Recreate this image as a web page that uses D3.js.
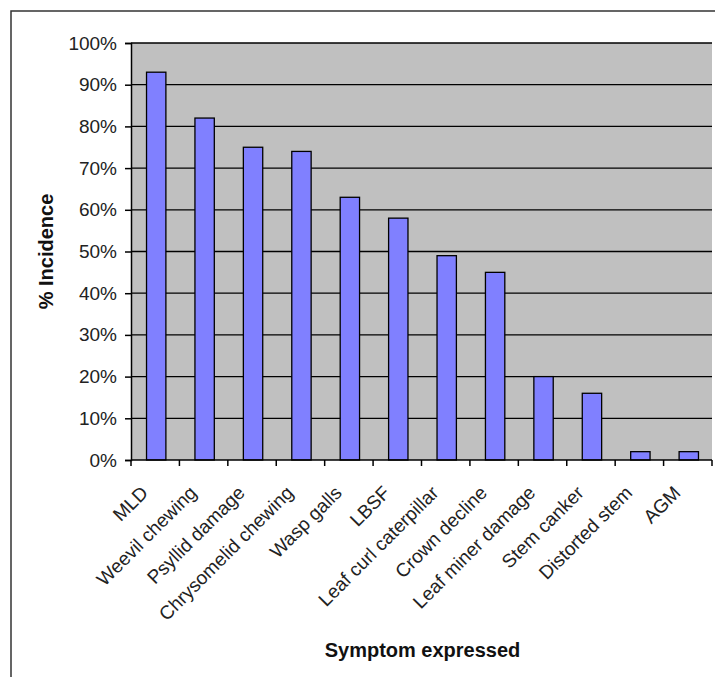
<!DOCTYPE html>
<html>
<head>
<meta charset="utf-8">
<script src="https://cdn.jsdelivr.net/npm/d3@7"></script>
<style>
  body { margin: 0; background: #fff; }
  text { font-family: "Liberation Sans", Arial, sans-serif; }
</style>
</head>
<body>
<div id="container"></div>
<script>
// data
const symptoms = ["MLD", "Weevil chewing", "Psyllid damage", "Chrysomelid chewing", "Wasp galls", "LBSF",
  "Leaf curl caterpillar", "Crown decline", "Leaf miner damage", "Stem canker", "Distorted stem", "AGM"];
const incidence = [93, 82, 75, 74, 63, 58, 49, 45, 20, 16, 2, 2];
const yTicks = [0, 10, 20, 30, 40, 50, 60, 70, 80, 90, 100];

const W = 715, H = 677;
const margin = {top: 43, right: 3, bottom: 217, left: 131},
  width = W - margin.left - margin.right,
  height = H - margin.top - margin.bottom;

const svgRoot = d3.select("#container")
  .append("svg")
  .attr("width", W)
  .attr("height", H);

// outer frame (runs off the right and bottom edges)
svgRoot.append("rect")
  .attr("x", 11).attr("y", 11)
  .attr("width", W + 20).attr("height", H + 20)
  .attr("fill", "none")
  .attr("stroke", "#333")
  .attr("stroke-width", 1.5);

const svg = svgRoot.append("g")
  .attr("transform", `translate(${margin.left},${margin.top})`);

const x = d3.scaleBand()
  .domain(symptoms)
  .range([0, width]);

const y = d3.scaleLinear()
  .domain([0, 100])
  .range([height, 0]);

// plot background
svg.append("rect")
  .attr("x", 0).attr("y", y(100))
  .attr("width", width).attr("height", height - y(100))
  .attr("fill", "#c0c0c0");

// gridlines
svg.selectAll(".grid")
  .data(yTicks.filter(d => d > 0))
  .join("line")
  .attr("x1", 0).attr("x2", width)
  .attr("y1", d => y(d)).attr("y2", d => y(d))
  .attr("stroke", "#000")
  .attr("stroke-width", 1.3);

// bars
const barW = x.bandwidth() / 2.5;
svg.selectAll(".bar")
  .data(symptoms)
  .join("rect")
  .attr("x", d => x(d) + x.bandwidth() / 2 - barW / 2 + 1)
  .attr("y", (d, i) => y(incidence[i]))
  .attr("width", barW)
  .attr("height", (d, i) => height - y(incidence[i]))
  .attr("fill", "#8080ff")
  .attr("stroke", "#000")
  .attr("stroke-width", 1.3);

// y axis
const yAxis = svg.append("g")
  .call(d3.axisLeft(y).tickValues(yTicks).tickSize(6).tickFormat(d => d + "%"));
yAxis.select(".domain").attr("stroke", "#000").attr("stroke-width", 1.5);
yAxis.selectAll(".tick line").attr("stroke-width", 1.5);
yAxis.selectAll(".tick text")
  .attr("x", -14)
  .style("font-size", "19px")
  .attr("fill", "#222");

// x axis: ticks on category boundaries
const xAxis = svg.append("g")
  .attr("transform", `translate(0,${height})`);
xAxis.append("line")
  .attr("x1", 0).attr("x2", width)
  .attr("stroke", "#000").attr("stroke-width", 1.5);
xAxis.selectAll(".xt")
  .data(symptoms.concat(["end"]))
  .join("line")
  .attr("x1", (d, i) => i * x.step()).attr("x2", (d, i) => i * x.step())
  .attr("y1", 0).attr("y2", 6)
  .attr("stroke", "#000").attr("stroke-width", 1.5);
xAxis.selectAll(".xl")
  .data(symptoms)
  .join("text")
  .attr("transform", d => `translate(${x(d) + x.bandwidth() / 2 - 6},34) rotate(-45)`)
  .attr("text-anchor", "end")
  .style("font-size", "19px")
  .attr("fill", "#222")
  .text(d => d);

// axis titles
svgRoot.append("text")
  .attr("transform", `translate(53,${margin.top + height / 2}) rotate(-90)`)
  .attr("text-anchor", "middle")
  .style("font-size", "20px")
  .style("font-weight", "bold")
  .attr("fill", "#111")
  .text("% Incidence");

svgRoot.append("text")
  .attr("x", margin.left + width / 2 + 1)
  .attr("y", 657)
  .attr("text-anchor", "middle")
  .style("font-size", "20px")
  .style("font-weight", "bold")
  .attr("fill", "#111")
  .text("Symptom expressed");
</script>
</body>
</html>
